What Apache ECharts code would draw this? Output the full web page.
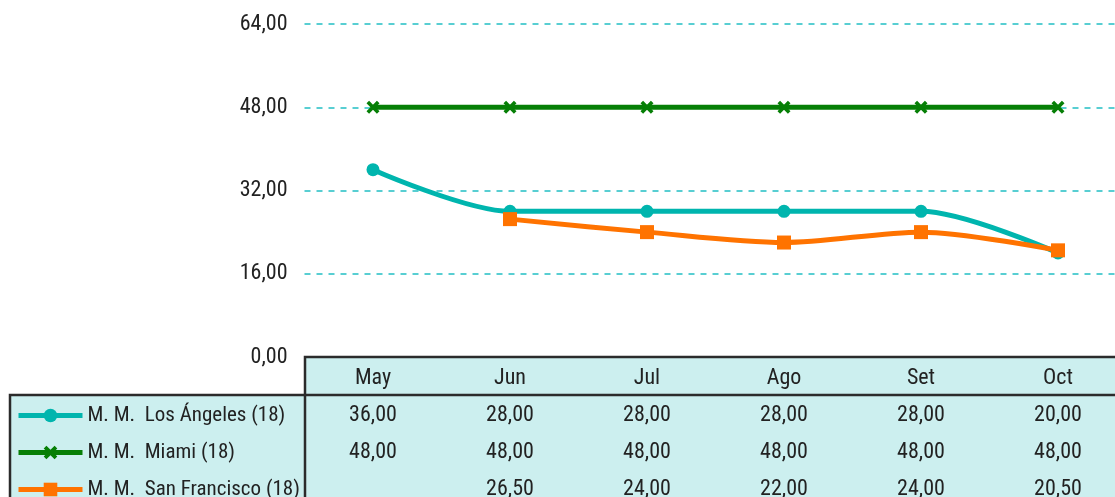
<!DOCTYPE html>
<html>
<head>
<meta charset="utf-8">
<script src="https://cdn.jsdelivr.net/npm/echarts@6/dist/echarts.min.js"></script>
<style>
html,body{margin:0;padding:0;background:#fff;overflow:hidden;}
#c{width:1127px;height:497px;}
</style>
</head>
<body>
<div id="c"></div>
<script>
var categories = ['May', 'Jun', 'Jul', 'Ago', 'Set', 'Oct'];
var seriesNames = ['M. M.  Los Ángeles (18)', 'M. M.  Miami (18)', 'M. M.  San Francisco (18)'];
var losAngeles = [36, 28, 28, 28, 28, 20];
var miami = [48, 48, 48, 48, 48, 48];
var sanFrancisco = [null, 26.5, 24, 22, 24, 20.5];
var yTicks = [0, 16, 32, 48, 64];

var FONT = "'Roboto Condensed', 'Liberation Sans Narrow', 'Liberation Sans', Arial, sans-serif";
var FS = 22;
var TXT = '#222';
var rows = [losAngeles, miami, sanFrancisco];

function fmt(v) {
  if (v === null || v === undefined) return '';
  return v.toFixed(2).replace('.', ',');
}

var xAxes = [{
  type: 'category', data: categories, gridIndex: 0, position: 'bottom',
  boundaryGap: true,
  axisLine: { show: false }, axisTick: { show: false },
  axisLabel: { fontFamily: FONT, fontSize: FS, color: TXT, margin: 21, verticalAlign: 'middle' }
}];
rows.forEach(function (arr, i) {
  xAxes.push({
    type: 'category', data: categories, gridIndex: 0, position: 'bottom',
    offset: 37 * (i + 1),
    axisLine: { show: false }, axisTick: { show: false },
    axisLabel: {
      fontFamily: FONT, fontSize: FS, color: TXT, margin: 21, verticalAlign: 'middle',
      formatter: function (val, idx) { return fmt(arr[idx]); }
    }
  });
});

var legends = seriesNames.map(function (name, i) {
  return {
    orient: 'vertical', left: 16, top: 405 + 37 * i, padding: 0,
    itemWidth: 64, itemHeight: 17, itemGap: 0,
    lineStyle: { width: 5 },
    textStyle: { fontFamily: FONT, fontSize: 21, color: TXT, lineHeight: 18, padding: [2, 0, 0, 0] },
    data: [name]
  };
});

var xPath = 'path://M0,2 L2,0 L5,3 L8,0 L10,2 L7,5 L10,8 L8,10 L5,7 L2,10 L0,8 L3,5 Z';

var chart = echarts.init(document.getElementById('c'), null, { renderer: 'canvas' });
chart.setOption({
  animation: false,
  backgroundColor: '#fff',
  grid: { left: 304.5, top: 24, right: 0.5, height: 333, containLabel: false, outerBoundsMode: 'none' },
  graphic: [
    { type: 'rect', z: -10, shape: { x: 305, y: 357, width: 830, height: 150 }, style: { fill: '#ccefef' } },
    { type: 'rect', z: -10, shape: { x: 10, y: 395, width: 300, height: 110 }, style: { fill: '#ccefef' } },
    { type: 'polyline', z: 100, shape: { points: [[305, 510], [305, 357], [1130, 357]] }, style: { stroke: '#2b2b2b', lineWidth: 2.5, fill: null } },
    { type: 'polyline', z: 100, shape: { points: [[10, 510], [10, 395], [1130, 395]] }, style: { stroke: '#2b2b2b', lineWidth: 2.5, fill: null } }
  ],
  legend: legends,
  xAxis: xAxes,
  yAxis: {
    type: 'value', min: 0, max: 64, interval: 16,
    axisLine: { show: false }, axisTick: { show: false },
    axisLabel: { fontFamily: FONT, fontSize: FS, color: TXT, margin: 17, formatter: function (v) { return fmt(v); } },
    splitLine: { lineStyle: { color: '#22bfc4', type: [6, 6], width: 1.5 } }
  },
  series: [
    {
      name: seriesNames[0], type: 'line', data: losAngeles, smooth: 0.3,
      symbol: 'circle', symbolSize: 13,
      lineStyle: { color: '#00b5ae', width: 5 }, itemStyle: { color: '#00b5ae' }, z: 3
    },
    {
      name: seriesNames[1], type: 'line', data: miami,
      symbol: xPath, symbolSize: 13,
      lineStyle: { color: '#067f06', width: 5 }, itemStyle: { color: '#067f06' }, z: 2
    },
    {
      name: seriesNames[2], type: 'line', data: sanFrancisco, smooth: 0.3,
      symbol: 'rect', symbolSize: 14,
      lineStyle: { color: '#ff7300', width: 5 }, itemStyle: { color: '#ff7300' }, z: 4
    }
  ]
});
</script>
</body>
</html>
